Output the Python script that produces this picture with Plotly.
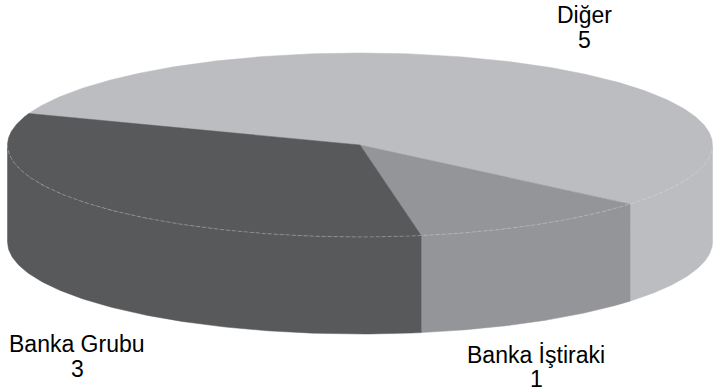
import numpy as np
import plotly.graph_objects as go

# ---- data ----
labels = ["Diğer", "Banka İştiraki", "Banka Grubu"]
values = [5, 1, 3]

# ---- style ----
colors = ["#BCBDC0", "#939598", "#58595B"]
W, H = 713, 392
cx, cy = 360.0, 145.0        # centre of top ellipse (px)
rx, ry = 352.5, 92.0         # radii of top ellipse
depth = 97.0                 # thickness of the pie
start_deg = 200.0            # screen angle (clockwise) where first slice starts
label_pos = [(584, 15, 40), (536, 355, 379), (77, 344, 369)]  # x, line1 y, line2 y
font = dict(family="Liberation Sans, Arial, Helvetica, sans-serif", size=23, color="black")

def ell(t_deg, dy=0.0):
    t = np.radians(t_deg)
    return cx + rx * np.cos(t), cy + ry * np.sin(t) + dy

total = float(sum(values))
spans = []
a = start_deg
for v in values:
    b = a + 360.0 * v / total
    spans.append((a, b))
    a = b

fig = go.Figure()

# side walls (front-facing part: screen angle 0..180 mod 360)
for (a, b), col in zip(spans, colors):
    for k in range(0, 3):
        lo, hi = max(a, 360 * k), min(b, 360 * k + 180)
        if hi <= lo:
            continue
        t = np.linspace(lo, hi, 120)
        xt, yt = ell(t)
        xb, yb = ell(t[::-1], depth)
        fig.add_trace(go.Scatter(
            x=np.concatenate([xt, xb, xt[:1]]), y=np.concatenate([yt, yb, yt[:1]]),
            mode="lines", fill="toself", fillcolor=col,
            line=dict(width=0.5, color=col), hoverinfo="skip", showlegend=False))

# top faces
for (a, b), col in zip(spans, colors):
    t = np.linspace(a, b, 300)
    xt, yt = ell(t)
    fig.add_trace(go.Scatter(
        x=np.concatenate([[cx], xt, [cx]]), y=np.concatenate([[cy], yt, [cy]]),
        mode="lines", fill="toself", fillcolor=col,
        line=dict(width=0.5, color=col), hoverinfo="skip", showlegend=False))

# faint rim line along front edge of top face
t = np.linspace(0, 180, 400)
xr, yr = ell(t)
fig.add_trace(go.Scatter(x=xr, y=yr, mode="lines",
                         line=dict(width=0.6, color="rgba(225,225,225,0.6)", dash="4px,2px"),
                         hoverinfo="skip", showlegend=False))

annotations = []
for lab, val, (x, y1, y2) in zip(labels, values, label_pos):
    annotations.append(dict(x=x, y=y1, xref="x", yref="y", text=lab, showarrow=False,
                            font=font, xanchor="center", yanchor="middle"))
    annotations.append(dict(x=x, y=y2, xref="x", yref="y", text=str(val), showarrow=False,
                            font=font, xanchor="center", yanchor="middle"))

fig.update_layout(
    width=W, height=H, margin=dict(l=0, r=0, t=0, b=0),
    paper_bgcolor="white", plot_bgcolor="white",
    xaxis=dict(range=[0, W], visible=False, fixedrange=True),
    yaxis=dict(range=[H, 0], visible=False, fixedrange=True),
    annotations=annotations, showlegend=False,
)

fig.write_html("out.html")
